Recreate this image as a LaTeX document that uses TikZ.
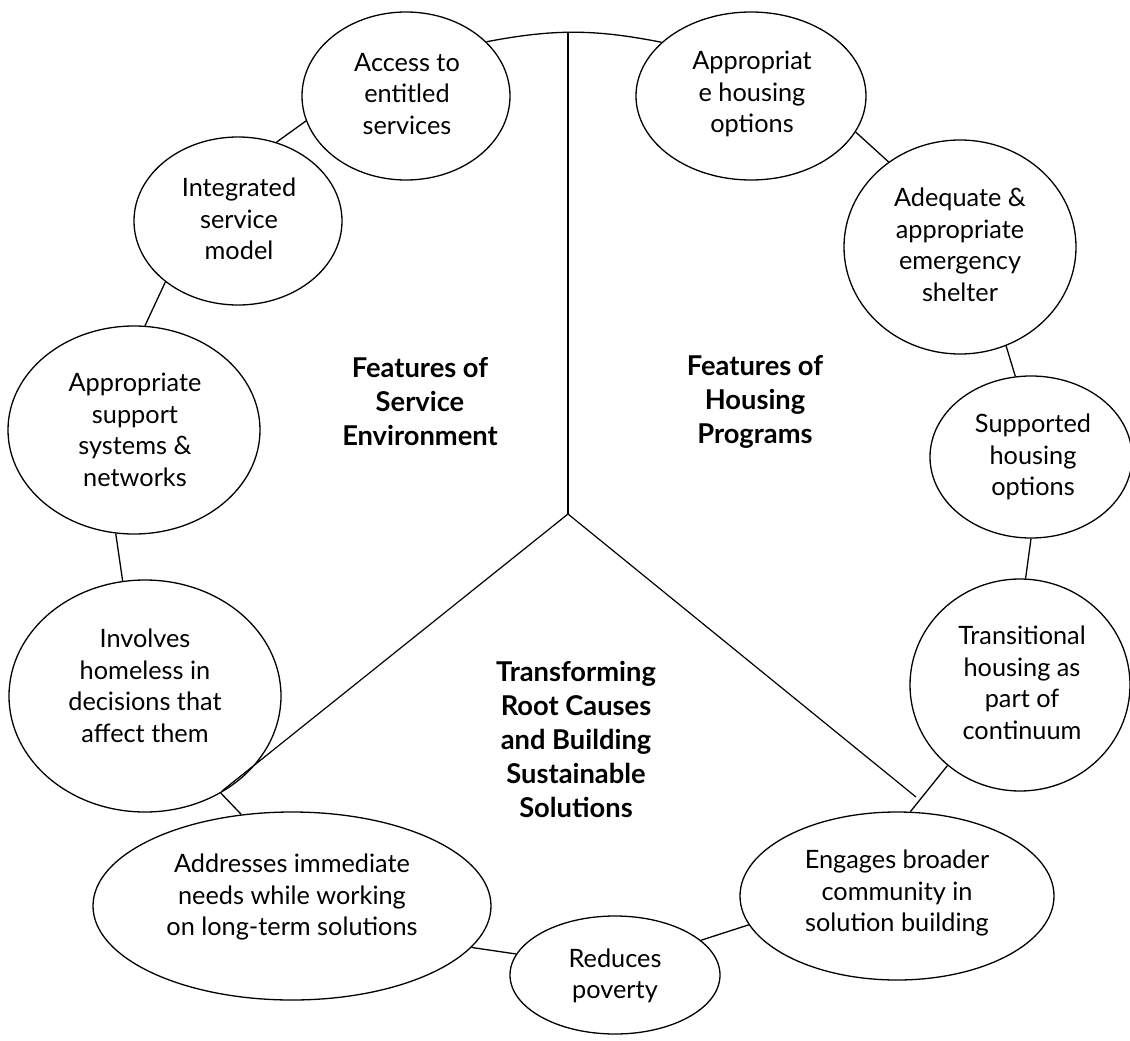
\documentclass[tikz,border=0pt]{standalone}
\usepackage{fontspec}
\setmainfont{Lato}
\usetikzlibrary{shapes.geometric}
\begin{document}
\begin{tikzpicture}[x=1pt,y=-1pt,
  bub/.style={draw, ellipse, line width=1.3pt, inner sep=0pt},
  txt/.style={align=center, inner sep=0pt, font=\fontsize{25.3}{31.5}\selectfont},
  ttl/.style={align=center, inner sep=0pt, font=\fontsize{27.3}{34}\selectfont\bfseries},
  conn/.style={line width=1.3pt},
  divider/.style={line width=1.2pt}]
\useasboundingbox (0,0) rectangle (1130,1041);
% ellipses
\node[bub, minimum width=208pt, minimum height=168pt] (acc) at (406,96) {};
\node[bub, minimum width=230pt, minimum height=168pt] (ahs) at (751,96) {};
\node[bub, minimum width=208pt, minimum height=168pt] (int) at (238,221) {};
\node[bub, minimum width=252pt, minimum height=208pt] (sup) at (134,430) {};
\node[bub, minimum width=272pt, minimum height=232pt] (inv) at (145,696) {};
\node[bub, minimum width=398pt, minimum height=188pt] (adr) at (292,906) {};
\node[bub, minimum width=210pt, minimum height=118pt] (red) at (615,975) {};
\node[bub, minimum width=314pt, minimum height=168pt] (eng) at (897,896) {};
\node[bub, minimum width=220pt, minimum height=212pt] (tra) at (1020,685) {};
\node[bub, minimum width=202pt, minimum height=162pt] (sho) at (1031,457) {};
\node[bub, minimum width=232pt, minimum height=214pt] (ade) at (960,247) {};
% texts
\node[txt] (tacc) at (407,94) {Access to\\entitled\\services};
\node[txt] (tahs) at (752,94) {Appropriat\\e housing\\options};
\node[txt] (tint) at (239,219) {Integrated\\service\\model};
\node[txt] (tsup) at (135,430) {Appropriate\\support\\systems \&\\networks};
\node[txt] (tinv) at (145,686) {Involves\\homeless in\\decisions that\\affect them};
\node[txt] (tadr) at (292,897) {Addresses immediate\\needs while working\\on long-term solutions};
\node[txt] (tred) at (615,976) {Reduces\\poverty};
\node[txt] (teng) at (897,893) {Engages broader\\community in\\solution building};
\node[txt] (ttra) at (1022,683) {Transitional\\housing as\\part of\\continuum};
\node[txt] (tsho) at (1033,457) {Supported\\housing\\options};
\node[txt] (tade) at (960,245) {Adequate \&\\appropriate\\emergency\\shelter};
% section titles
\node[ttl] (ts1) at (420,402) {Features of\\Service\\Environment};
\node[ttl] (ts2) at (755,402) {Features of\\Housing\\Programs};
\node[ttl] (ts3) at (576,739) {Transforming\\Root Causes\\and Building\\Sustainable\\Solutions};
% ring connectors
\draw[conn] (acc.34) to[bend left=11] (ahs.149);
\draw[conn] (acc.194) -- (int.64);
\draw[conn] (int.220) -- (sup.84);
\draw[conn] (sup.260) -- (inv.101);
\draw[conn] (inv.308) -- (adr.119);
\draw[conn] (adr.347) -- (red.168);
\draw[conn] (red.22) -- (eng.191);
\draw[conn] (eng.81) -- (tra.228);
\draw[conn] (tra.87) -- (sho.270);
\draw[conn] (sho.101) -- (ade.295);
\draw[conn] (ade.130) -- (ahs.341);
% dividers
\coordinate (top) at (568,32);
\coordinate (hub) at (568,514);
\coordinate (lend) at (222,791);
\coordinate (rend) at (916,797);
\draw[divider] (top) -- (hub);
\draw[divider] (hub) -- (lend);
\draw[divider] (hub) -- (rend);
\end{tikzpicture}
\end{document}
